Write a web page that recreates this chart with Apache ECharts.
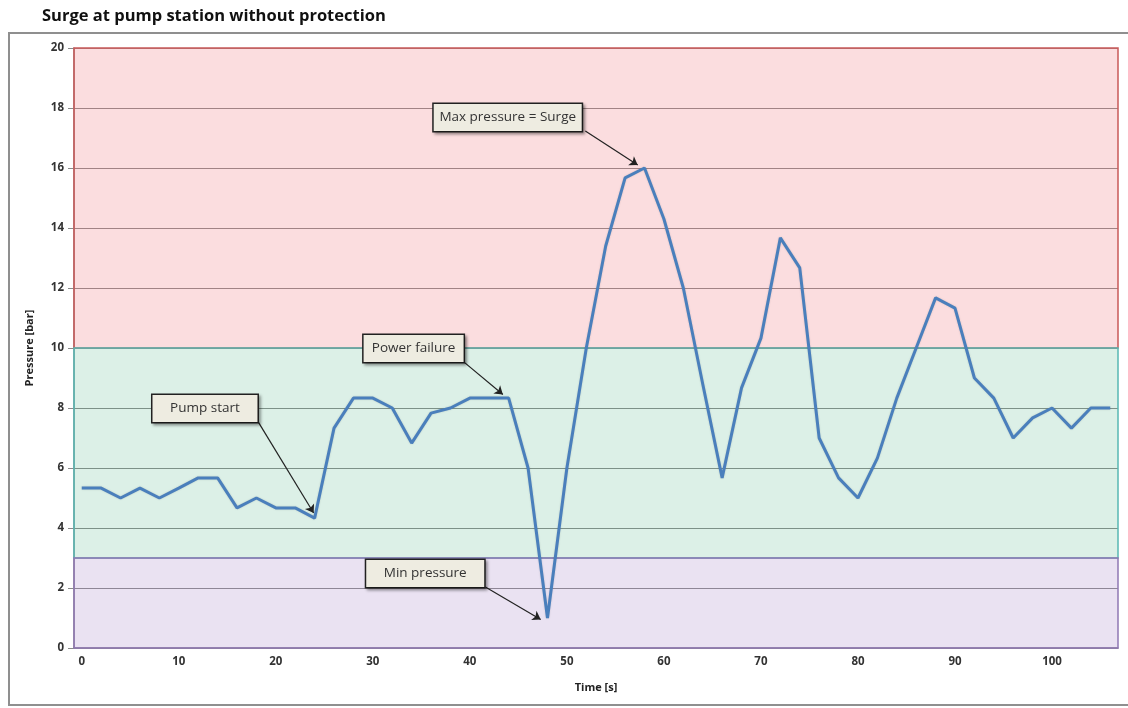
<!DOCTYPE html>
<html>
<head>
<meta charset="utf-8">
<script src="https://cdn.jsdelivr.net/npm/echarts@6/dist/echarts.min.js"></script>
<style>
  html, body { margin: 0; padding: 0; background: #ffffff; }
  #chart { width: 1128px; height: 708px; }
</style>
</head>
<body>
<div id="chart"></div>
<script>
// ---- Data ----
const timeSeconds = [0, 2, 4, 6, 8, 10, 12, 14, 16, 18, 20, 22, 24, 26, 28, 30, 32, 34, 36, 38,
  40, 42, 44, 46, 48, 50, 52, 54, 56, 58, 60, 62, 64, 66, 68, 70, 72, 74, 76, 78,
  80, 82, 84, 86, 88, 90, 92, 94, 96, 98, 100, 102, 104, 106];
const pressureBar = [5.33, 5.33, 5.0, 5.33, 5.0, 5.33, 5.67, 5.67, 4.67, 5.0, 4.67, 4.67, 4.33, 7.33, 8.33, 8.33, 8.0, 6.83, 7.83, 8.0,
  8.33, 8.33, 8.33, 6.0, 1.0, 6.0, 10.0, 13.4, 15.67, 16.0, 14.3, 12.0, 8.8, 5.67, 8.67, 10.33, 13.67, 12.67, 7.0, 5.67,
  5.0, 6.33, 8.33, 10.0, 11.67, 11.33, 9.0, 8.33, 7.0, 7.67, 8.0, 7.33, 8.0, 8.0];
const xTickLabels = [0, 10, 20, 30, 40, 50, 60, 70, 80, 90, 100];
const zoneNames = ['Surge zone', 'Normal zone', 'Low zone'];
const zoneBounds = [[10, 20], [3, 10], [0, 3]];
const calloutTexts = ['Max pressure = Surge', 'Power failure', 'Pump start', 'Min pressure'];

const chart = echarts.init(document.getElementById('chart'), null, { renderer: 'canvas' });

const lineData = timeSeconds.map((t, i) => [t, pressureBar[i]]);

const zoneStyles = [
  { color: 'rgba(235,100,110,0.22)', borderColor: '#c95a5a', borderWidth: 1.5 },
  { color: 'rgba(60,170,120,0.18)', borderColor: '#58b8b4', borderWidth: 1.5 },
  { color: 'rgba(150,110,190,0.20)', borderColor: '#9078b4', borderWidth: 1.5 }
];

// callout boxes: [t, p] of the box centre, and the box width
const calloutBoxes = [
  { coord: [43.9, 17.68], width: 148 },
  { coord: [34.2, 9.98], width: 100 },
  { coord: [12.7, 7.98], width: 105 },
  { coord: [35.4, 2.48], width: 118 }
];
const calloutArrows = [
  [[51.9, 17.23], [57.3, 16.1]],
  [[39.4, 9.53], [43.4, 8.45]],
  [[18.2, 7.53], [23.9, 4.5]],
  [[41.6, 2.03], [47.3, 0.95]]
];

const option = {
  animation: false,
  backgroundColor: '#ffffff',
  title: {
    text: 'Surge at pump station without protection',
    left: 37,
    top: 3,
    textStyle: { fontFamily: 'Open Sans', fontWeight: 'bold', fontSize: 16.5, color: '#111' }
  },
  graphic: [{
    type: 'rect',
    shape: { x: 9, y: 33, width: 1125, height: 672 },
    style: { fill: 'none', stroke: '#8f8f8f', lineWidth: 2 },
    silent: true,
    z: -1
  }],
  grid: { left: 74, right: 10, top: 48, bottom: 60, containLabel: false },
  xAxis: {
    type: 'value',
    min: -0.8,
    max: 106.8,
    name: 'Time [s]',
    nameLocation: 'middle',
    nameGap: 34,
    nameTextStyle: { fontFamily: 'Open Sans', fontWeight: 'bold', fontSize: 11, color: '#222' },
    axisLine: { show: true, onZero: false, lineStyle: { color: '#8a8a8a', width: 1.5 } },
    axisTick: { show: false },
    splitLine: { show: false },
    axisLabel: {
      customValues: xTickLabels,
      fontFamily: 'Open Sans', fontWeight: 'bold', fontSize: 11.5, color: '#333', margin: 8
    }
  },
  yAxis: {
    type: 'value',
    min: 0,
    max: 20,
    interval: 2,
    name: 'Pressure [bar]',
    nameLocation: 'middle',
    nameGap: 39,
    nameTextStyle: { fontFamily: 'Open Sans', fontWeight: 'bold', fontSize: 11, color: '#222' },
    axisLine: { show: true, onZero: false, lineStyle: { color: '#8a8a8a', width: 1.5 } },
    axisTick: { show: true, length: 6, lineStyle: { color: '#8a8a8a' } },
    splitLine: { show: true, lineStyle: { color: '#8c8c8c', width: 1 } },
    axisLabel: { fontFamily: 'Open Sans', fontWeight: 'bold', fontSize: 11.5, color: '#333', margin: 10 }
  },
  series: [
    {
      type: 'line',
      name: 'Pressure',
      data: lineData,
      showSymbol: false,
      symbol: 'none',
      lineStyle: { color: '#4a7fbc', width: 3, shadowColor: 'rgba(0,0,0,0.15)', shadowBlur: 2 },
      z: 3,
      markArea: {
        silent: true,
        data: zoneBounds.map((b, i) => [
          { name: zoneNames[i], yAxis: b[0], itemStyle: zoneStyles[i], label: { show: false } },
          { yAxis: b[1] }
        ])
      },
      markLine: {
        silent: true,
        symbol: ['none', 'arrow'],
        symbolSize: 8,
        label: { show: false },
        lineStyle: { color: '#222', width: 1.2, type: 'solid' },
        data: calloutArrows.map(a => [{ coord: a[0] }, { coord: a[1] }])
      },
      markPoint: {
        silent: true,
        symbol: 'rect',
        symbolSize: 1,
        itemStyle: { color: 'rgba(0,0,0,0)' },
        data: calloutBoxes.map((b, i) => ({
          coord: b.coord,
          label: {
            show: true,
            position: 'inside',
            formatter: calloutTexts[i],
            width: b.width,
            align: 'center',
            fontFamily: 'Open Sans',
            fontSize: 13.5,
            lineHeight: 15,
            color: '#333',
            backgroundColor: '#eeece1',
            borderColor: '#222',
            borderWidth: 1.5,
            padding: [6, 0],
            shadowColor: 'rgba(0,0,0,0.35)',
            shadowBlur: 3,
            shadowOffsetX: 2,
            shadowOffsetY: 2
          }
        }))
      }
    }
  ]
};

chart.setOption(option);
</script>
</body>
</html>
